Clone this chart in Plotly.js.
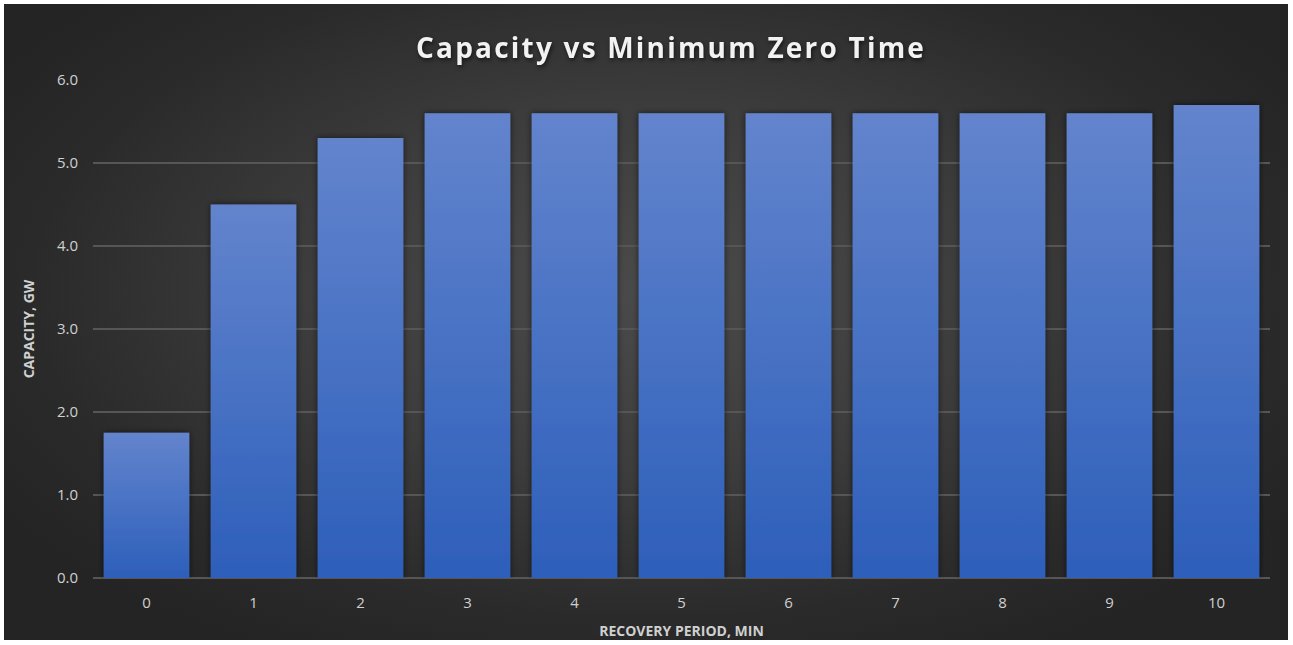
<!DOCTYPE html>
<html>
<head>
<meta charset="utf-8">
<script src="https://cdn.plot.ly/plotly-3.0.1.min.js"></script>
<style>
  html, body { margin: 0; padding: 0; background: #ffffff; }
  #bg { position: absolute; left: 4px; top: 4px; width: 1284px; height: 636px;
        background: radial-gradient(ellipse 60% 65% at 50% 45%, #4a4a4a 0%, #3c3c3c 45%, #2a2a2a 80%, #242424 100%); }
  #chart { position: absolute; left: 0; top: 0; width: 1293px; height: 645px; }
</style>
</head>
<body>
<div id="bg"></div>
<div id="chart"></div>
<script>
const categories = ['0','1','2','3','4','5','6','7','8','9','10'];
const capacityGW = [1.75, 4.5, 5.3, 5.6, 5.6, 5.6, 5.6, 5.6, 5.6, 5.6, 5.7];
const yTicks = [0, 1, 2, 3, 4, 5, 6];
const yTickLabels = ['0.0', '1.0', '2.0', '3.0', '4.0', '5.0', '6.0'];

const trace = {
  type: 'bar',
  x: categories,
  y: capacityGW,
  marker: { color: '#4470c6', line: { width: 0 } },
  hoverinfo: 'x+y'
};

const layout = {
  width: 1293, height: 645,
  margin: { l: 93, r: 23, t: 80, b: 67 },
  paper_bgcolor: 'rgba(0,0,0,0)',
  plot_bgcolor: 'rgba(0,0,0,0)',
  bargap: 0.2,
  showlegend: false,
  font: { family: 'Open Sans, sans-serif', color: '#d9d9d9' },
  title: {
    text: '<b>Capacity vs Minimum Zero Time</b>',
    font: { family: 'Open Sans, sans-serif', size: 28, color: '#f2f2f2' },
    x: 0.519, xanchor: 'center', y: 0.925, yanchor: 'middle'
  },
  xaxis: {
    type: 'category',
    showgrid: false, zeroline: false, showline: false,
    ticks: '', ticklen: 0, ticklabelstandoff: 14,
    tickfont: { size: 15, color: '#d0d0d0' },
    title: { text: '<b>RECOVERY PERIOD, MIN</b>', font: { size: 14, color: '#d0d0d0' }, standoff: 15 }
  },
  yaxis: {
    range: [0, 6],
    tickvals: yTicks, ticktext: yTickLabels,
    showgrid: true, gridcolor: '#565656', gridwidth: 1.3,
    zeroline: true, zerolinecolor: '#565656', zerolinewidth: 1.3,
    showline: false, ticks: '', ticklabelstandoff: 14,
    tickfont: { size: 15, color: '#d0d0d0' },
    title: { text: '<b>CAPACITY, GW</b>', font: { size: 14, color: '#d0d0d0' }, standoff: 19 }
  }
};

Plotly.newPlot('chart', [trace], layout, { displayModeBar: false, staticPlot: true }).then(function (gd) {
  const svg = gd.querySelector('svg.main-svg');
  const ns = 'http://www.w3.org/2000/svg';
  let defs = svg.querySelector('defs');
  if (!defs) { defs = document.createElementNS(ns, 'defs'); svg.insertBefore(defs, svg.firstChild); }
  const grad = document.createElementNS(ns, 'linearGradient');
  grad.setAttribute('id', 'barGrad');
  grad.setAttribute('x1', '0'); grad.setAttribute('y1', '0');
  grad.setAttribute('x2', '0'); grad.setAttribute('y2', '1');
  [['0%', '#6384cd'], ['100%', '#2d5fba']].forEach(function (s) {
    const st = document.createElementNS(ns, 'stop');
    st.setAttribute('offset', s[0]); st.setAttribute('stop-color', s[1]);
    grad.appendChild(st);
  });
  defs.appendChild(grad);
  const filt = document.createElementNS(ns, 'filter');
  filt.setAttribute('id', 'barShadow');
  filt.setAttribute('x', '-20%'); filt.setAttribute('y', '-5%');
  filt.setAttribute('width', '140%'); filt.setAttribute('height', '110%');
  filt.innerHTML = '<feGaussianBlur in="SourceAlpha" stdDeviation="3"/><feOffset dx="0" dy="0" result="b"/>' +
    '<feComponentTransfer><feFuncA type="linear" slope="0.6"/></feComponentTransfer>' +
    '<feMerge><feMergeNode/><feMergeNode in="SourceGraphic"/></feMerge>';
  defs.appendChild(filt);
  gd.querySelectorAll('.bars .point path').forEach(function (p) {
    p.style.fill = 'url(#barGrad)';
    p.setAttribute('filter', 'url(#barShadow)');
  });
  const t = gd.querySelector('.gtitle');
  if (t) {
    t.style.filter = 'drop-shadow(1px 2px 2px rgba(0,0,0,0.6))';
    t.style.letterSpacing = '2.2px';
  }
});
</script>
</body>
</html>
